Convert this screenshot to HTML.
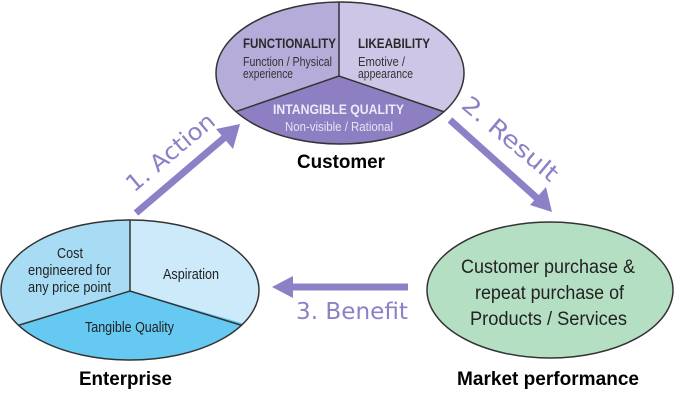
<!DOCTYPE html>
<html><head><meta charset="utf-8"><style>
html,body{margin:0;padding:0;background:#fff;width:678px;height:401px;overflow:hidden}
svg{display:block}
</style></head><body>
<svg width="678" height="401" viewBox="0 0 678 401" font-family="Liberation Sans, Arial, sans-serif">
<defs>
<clipPath id="c1"><ellipse cx="340" cy="73" rx="124" ry="71"/></clipPath>
<clipPath id="c2"><ellipse cx="130" cy="290" rx="129" ry="70"/></clipPath>
</defs>
<!-- Customer -->
<g clip-path="url(#c1)">
<rect x="200" y="0" width="140" height="160" fill="#b5acd9"/>
<rect x="339" y="0" width="140" height="160" fill="#cdc6e6"/>
<polygon points="339,76 200,124 200,160 480,160 480,124" fill="#8d7fc1"/>
<polyline points="200,124 339,76 480,124" fill="none" stroke="#333" stroke-width="1.5"/>
<line x1="339" y1="0" x2="339" y2="76" stroke="#333" stroke-width="1.5"/>
</g>
<ellipse cx="340" cy="73" rx="124" ry="71" fill="none" stroke="#333" stroke-width="1.5"/>
<g lengthAdjust="spacingAndGlyphs">
<text x="243" y="48" font-size="14" font-weight="bold" fill="#2a2a2a" textLength="93" lengthAdjust="spacingAndGlyphs">FUNCTIONALITY</text>
<text x="243" y="66" font-size="13" fill="#333" textLength="89" lengthAdjust="spacingAndGlyphs">Function / Physical</text>
<text x="243" y="78" font-size="13" fill="#333" textLength="50" lengthAdjust="spacingAndGlyphs">experience</text>
<text x="358" y="48" font-size="14" font-weight="bold" fill="#2a2a2a" textLength="72" lengthAdjust="spacingAndGlyphs">LIKEABILITY</text>
<text x="358" y="66" font-size="13" fill="#333" textLength="47" lengthAdjust="spacingAndGlyphs">Emotive /</text>
<text x="358" y="78" font-size="13" fill="#333" textLength="55" lengthAdjust="spacingAndGlyphs">appearance</text>
<text x="273" y="114" font-size="14" font-weight="bold" fill="#eeeaf8" textLength="131" lengthAdjust="spacingAndGlyphs">INTANGIBLE QUALITY</text>
<text x="285" y="131" font-size="13" fill="#e8e4f6" textLength="108" lengthAdjust="spacingAndGlyphs">Non-visible / Rational</text>
<text x="297" y="168" font-size="19" font-weight="bold" fill="#000" textLength="88" lengthAdjust="spacingAndGlyphs">Customer</text>
</g>

<!-- Enterprise -->
<g clip-path="url(#c2)">
<rect x="0" y="210" width="131" height="160" fill="#a8dcf5"/>
<rect x="130" y="210" width="140" height="160" fill="#cdeafb"/>
<polygon points="130,291 0,331 0,370 270,370 270,331" fill="#66c9f1"/>
<polyline points="0,331 130,291 260,331" fill="none" stroke="#333" stroke-width="1.5"/>
<line x1="130" y1="210" x2="130" y2="291" stroke="#333" stroke-width="1.5"/>
</g>
<ellipse cx="130" cy="290" rx="129" ry="70" fill="none" stroke="#333" stroke-width="1.5"/>
<text x="57" y="258" font-size="15" fill="#222" textLength="26" lengthAdjust="spacingAndGlyphs">Cost</text>
<text x="28" y="275" font-size="15" fill="#222" textLength="83" lengthAdjust="spacingAndGlyphs">engineered for</text>
<text x="28" y="292" font-size="15" fill="#222" textLength="83" lengthAdjust="spacingAndGlyphs">any price point</text>
<text x="163" y="279" font-size="15" fill="#222" textLength="56" lengthAdjust="spacingAndGlyphs">Aspiration</text>
<text x="85" y="332" font-size="15" fill="#222" textLength="89" lengthAdjust="spacingAndGlyphs">Tangible Quality</text>
<text x="79" y="385" font-size="19" font-weight="bold" fill="#000" textLength="93" lengthAdjust="spacingAndGlyphs">Enterprise</text>

<!-- Market -->
<ellipse cx="550" cy="290" rx="123" ry="68" fill="#b4dfc2" stroke="#333" stroke-width="1.5"/>
<text x="461" y="273" font-size="19" fill="#222" textLength="174" lengthAdjust="spacingAndGlyphs">Customer purchase &amp;</text>
<text x="475" y="299" font-size="19" fill="#222" textLength="149" lengthAdjust="spacingAndGlyphs">repeat purchase of</text>
<text x="470" y="325" font-size="19" fill="#222" textLength="157" lengthAdjust="spacingAndGlyphs">Products / Services</text>
<text x="457" y="385" font-size="19" font-weight="bold" fill="#000" textLength="182" lengthAdjust="spacingAndGlyphs">Market performance</text>

<!-- Arrows -->
<g fill="#8c80c6" stroke="none">
<line x1="136" y1="213" x2="224" y2="138" stroke="#8c80c6" stroke-width="7"/>
<polygon points="240,124 216,129 233,149"/>
<line x1="450" y1="120" x2="538" y2="199" stroke="#8c80c6" stroke-width="7"/>
<polygon points="552,212 530,205 546,187"/>
<line x1="408" y1="287" x2="290" y2="287" stroke="#8c80c6" stroke-width="7"/>
<polygon points="272,287 293,276 293,298"/>
</g>
<g fill="#8c80c6" font-family="DejaVu Sans, sans-serif" font-size="23">
<text transform="translate(134,193) rotate(-40)" textLength="108" lengthAdjust="spacingAndGlyphs">1. Action</text>
<text transform="translate(460,107) rotate(40)" textLength="118" lengthAdjust="spacingAndGlyphs">2. Result</text>
<text x="296" y="319" textLength="112" lengthAdjust="spacingAndGlyphs">3. Benefit</text>
</g>
</svg>
</body></html>
